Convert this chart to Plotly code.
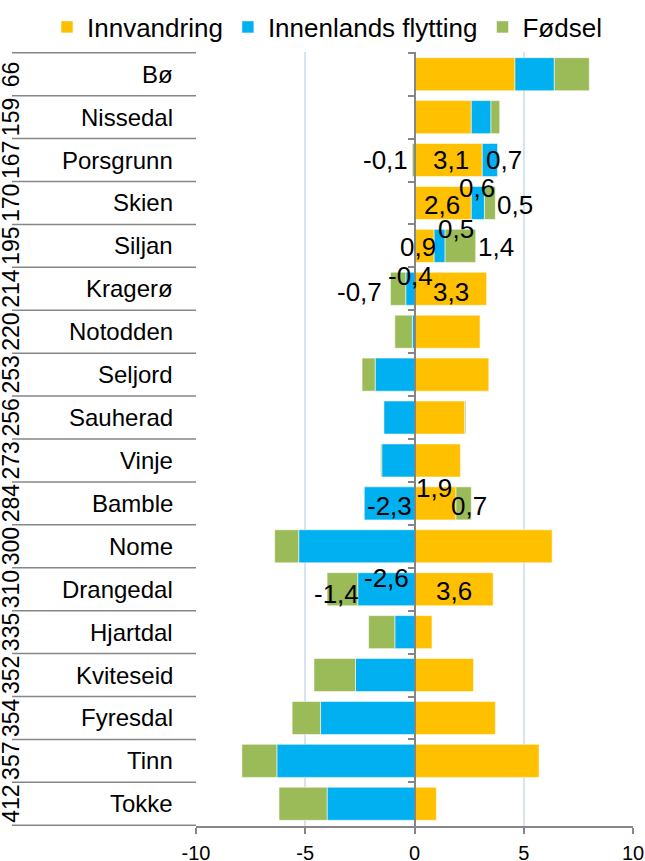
import plotly.graph_objects as go

# kommuner (ovenfra og ned) med rangering
kommuner = ["Bø", "Nissedal", "Porsgrunn", "Skien", "Siljan", "Kragerø", "Notodden",
            "Seljord", "Sauherad", "Vinje", "Bamble", "Nome", "Drangedal", "Hjartdal",
            "Kviteseid", "Fyresdal", "Tinn", "Tokke"]
rang = [66, 159, 167, 170, 195, 214, 220, 253, 256, 273, 284, 300, 310, 335, 352, 354, 357, 412]

innvandring = [4.6, 2.6, 3.1, 2.6, 0.9, 3.3, 3.0, 3.4, 2.3, 2.1, 1.9, 6.3, 3.6, 0.8, 2.7, 3.7, 5.7, 1.0]
innenlands = [1.8, 0.9, 0.7, 0.6, 0.5, -0.4, -0.1, -1.8, -1.4, -1.5, -2.3, -5.3, -2.6, -0.9, -2.7, -4.3, -6.3, -4.0]
fodsel = [1.6, 0.4, -0.1, 0.5, 1.4, -0.7, -0.8, -0.6, 0.05, -0.05, 0.7, -1.1, -1.4, -1.2, -1.9, -1.3, -1.6, -2.2]

x_ticks = [-10, -5, 0, 5, 10]
x_ticktext = ["-10", "-5", "0", "5", "10"]

serier = [
    ("Innvandring", innvandring, "#FFC000"),
    ("Innenlands flytting", innenlands, "#00B0F0"),
    ("Fødsel", fodsel, "#9BBB59"),
]

# dataetiketter: (kommune, serie, anker, dx, dy)  anker: c=midt, l=venstre ende, r=høyre ende
etiketter = [
    ("Porsgrunn", "Fødsel", "l", -2, 0),
    ("Porsgrunn", "Innvandring", "c", 3, 0),
    ("Porsgrunn", "Innenlands flytting", "c", 14, 0),
    ("Skien", "Innvandring", "c", -1, 2),
    ("Skien", "Innenlands flytting", "c", -1, -15),
    ("Skien", "Fødsel", "r", 0, 2),
    ("Siljan", "Innvandring", "c", -6, 1),
    ("Siljan", "Innenlands flytting", "c", 16, -17),
    ("Siljan", "Fødsel", "r", 0, 1),
    ("Kragerø", "Fødsel", "l", -6, 3),
    ("Kragerø", "Innenlands flytting", "c", 0, -13),
    ("Kragerø", "Innvandring", "c", 0, 3),
    ("Bamble", "Innenlands flytting", "c", 0, 3),
    ("Bamble", "Innvandring", "c", -1, -15),
    ("Bamble", "Fødsel", "c", 5, 3),
    ("Drangedal", "Fødsel", "c", -6, 5),
    ("Drangedal", "Innenlands flytting", "c", 0, -11),
    ("Drangedal", "Innvandring", "c", 0, 2),
]

FONT = "Liberation Sans, Arial, sans-serif"
W, H = 645, 861
L, R, T, B = 196, 12, 52, 35
plot_w = W - L - R
plot_h = H - T - B
GRA = "#868686"

fig = go.Figure()

# stablede søyler (relative: positive til høyre, negative til venstre)
segment = {}
pos = [0.0] * len(kommuner)
neg = [0.0] * len(kommuner)
for navn, verdier, farge in serier:
    fig.add_trace(
        go.Bar(
            y=kommuner,
            x=verdier,
            name=navn,
            orientation="h",
            marker=dict(color=farge, line=dict(color="rgba(255,255,255,0.7)", width=0.75)),
        )
    )
    for i, v in enumerate(verdier):
        if v >= 0:
            start = pos[i]
            pos[i] += v
            slutt = pos[i]
        else:
            start = neg[i]
            neg[i] += v
            slutt = neg[i]
        segment[(kommuner[i], navn)] = (min(start, slutt), max(start, slutt), v)

annotations = []
for kommune, serie, anker, dx, dy in etiketter:
    lo, hi, v = segment[(kommune, serie)]
    if anker == "l":
        x, xanchor = lo, "right"
    elif anker == "r":
        x, xanchor = hi, "left"
    else:
        x, xanchor = (lo + hi) / 2, "center"
    annotations.append(
        dict(
            x=x, y=kommune, xref="x", yref="y",
            text=f"{v:.1f}".replace(".", ","),
            showarrow=False, xanchor=xanchor, yanchor="middle",
            xshift=dx, yshift=-dy,
            font=dict(size=26, color="black", family=FONT),
        )
    )

# kategorietiketter: rangering (rotert) og kommunenavn
for r, k in zip(rang, kommuner):
    annotations.append(
        dict(
            x=0, y=k, xref="paper", yref="y", text=str(r), showarrow=False,
            textangle=-90, xanchor="center", yanchor="middle", xshift=-185,
            font=dict(size=23, color="black", family=FONT),
        )
    )
    annotations.append(
        dict(
            x=0, y=k, xref="paper", yref="y", text=k, showarrow=False,
            xanchor="right", yanchor="middle", xshift=-21,
            font=dict(size=24, color="black", family=FONT),
        )
    )

# skillelinjer mellom kategoriene
shapes = []
x_venstre = -(L - 12) / plot_w
for b in range(len(kommuner) + 1):
    shapes.append(
        dict(
            type="line", xref="paper", yref="y", x0=x_venstre, x1=0,
            y0=b - 0.5, y1=b - 0.5, line=dict(color=GRA, width=1.5),
        )
    )

fig.update_layout(
    width=W,
    height=H,
    margin=dict(l=L, r=R, t=T, b=B, autoexpand=False),
    paper_bgcolor="white",
    plot_bgcolor="white",
    barmode="relative",
    bargap=0.23,
    font=dict(family=FONT, color="black"),
    annotations=annotations,
    shapes=shapes,
    legend=dict(
        orientation="h",
        x=(47 - L) / plot_w,
        xanchor="left",
        y=1 + 25 / plot_h,
        yanchor="middle",
        font=dict(size=26, family=FONT, color="black"),
        bgcolor="rgba(0,0,0,0)",
        traceorder="normal",
    ),
    xaxis=dict(
        range=[-10, 10],
        tickvals=x_ticks,
        ticktext=x_ticktext,
        automargin=False,
        showgrid=True,
        gridcolor="#D9E3F0",
        gridwidth=1.5,
        zeroline=False,
        showline=True,
        linecolor=GRA,
        linewidth=1.5,
        ticks="outside",
        ticklen=6,
        tickcolor=GRA,
        tickwidth=1.5,
        tickfont=dict(size=20, color="black", family=FONT),
        ticklabelstandoff=2,
    ),
    yaxis=dict(
        type="category",
        categoryorder="array",
        categoryarray=kommuner,
        autorange="reversed",
        automargin=False,
        anchor="free",
        position=0.5,
        showline=True,
        linecolor=GRA,
        linewidth=1.5,
        ticks="outside",
        tickson="boundaries",
        ticklen=6,
        tickcolor=GRA,
        tickwidth=1.5,
        showticklabels=False,
        showgrid=False,
        zeroline=False,
    ),
)

fig.write_html(
    "out.html",
    config={"displayModeBar": False},
    post_script="document.body.style.margin='0';",
)
